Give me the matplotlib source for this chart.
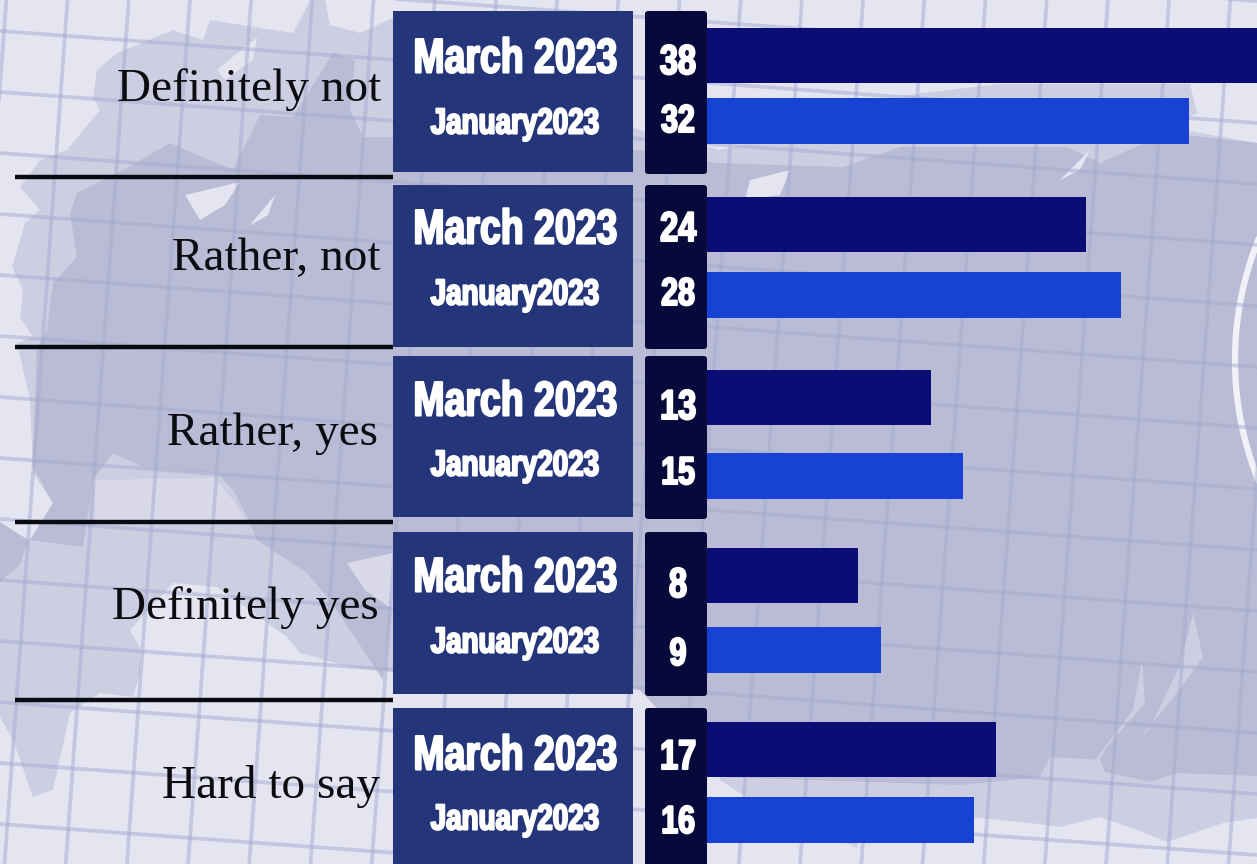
import matplotlib
matplotlib.use("Agg")
import matplotlib.pyplot as plt
from matplotlib.patches import Polygon, Rectangle, FancyBboxPatch
from matplotlib.patheffects import AbstractPathEffect
from matplotlib.transforms import Affine2D
import numpy as np

W, H = 1257, 864

# data
categories = ["Definitely not", "Rather, not", "Rather, yes", "Definitely yes", "Hard to say"]
series_names = ["March 2023", "January2023"]
march_labels = [38, 24, 13, 8, 17]
january_labels = [32, 28, 15, 9, 16]
# bar lengths as drawn in the picture (not strictly proportional to the labels)
march_lengths = [38, 25.15, 14.85, 10.05, 19.15]
january_lengths = [32, 27.5, 17, 11.55, 17.7]

# layout, in pixels of the reference
panel_tops = [11, 185, 356, 532, 708]
panel_bottoms = [172, 347, 517, 694, 870]
march_y = [55.5, 224.5, 397.5, 575.5, 749]
january_y = [121, 295, 475.5, 649.5, 819.5]
march_text_y = [60, 231, 403, 579, 757]
january_text_y = [124, 295, 466, 643, 820]
march_num_y = [63, 230, 408, 586, 758]
january_num_y = [122, 295, 474, 655, 823]
cat_text_y = [90, 259, 434, 608, 786]
cat_text_x = [381, 381, 378, 379, 380]
rule_y = [177, 347, 522, 700]

LIGHT = "#e5e5f1"
SOFT = "#d9d9ea"
MID = "#cdcee2"
DARK = "#babcd6"
GRID = "#a4abd0"
BOLD = ["Liberation Sans", "DejaVu Sans"]

# map outlines
mid_land = [(0, 717), (13, 740), (33, 797), (53, 790), (70, 713), (100, 693), (133, 697), (140, 673),
            (140, 647), (130, 630), (173, 583), (217, 587), (287, 637), (300, 653), (350, 667),
            (393, 672), (640, 690), (707, 745), (720, 780), (743, 795), (857, 848), (860, 800),
            (957, 806), (970, 817), (1030, 823), (1060, 827), (1100, 817), (1137, 830), (1167, 842),
            (1223, 823), (1257, 818), (1257, 143), (1167, 127), (1197, 113), (1190, 84), (1000, 84),
            (907, 95), (850, 120), (720, 150), (640, 130), (393, 18), (360, 33), (330, 25), (325, 0),
            (310, 0), (293, 33), (210, 20), (203, 40), (173, 30), (117, 53), (97, 70), (93, 97),
            (100, 110), (67, 150), (40, 160), (20, 187), (40, 210), (25, 223), (12, 267), (23, 290),
            (20, 317), (33, 337), (17, 343), (30, 400), (33, 473), (53, 503), (30, 540), (0, 525)]
dark_land = [(127, 168), (97, 183), (77, 193), (70, 213), (77, 257), (53, 283), (47, 330), (37, 347),
             (35, 400), (33, 467), (93, 480), (113, 453), (143, 467), (217, 473), (233, 490),
             (247, 517), (257, 540), (307, 573), (330, 600), (383, 680), (393, 600), (640, 690),
             (720, 777), (960, 785), (1040, 777), (1050, 757), (1100, 760), (1105, 772), (1150, 782),
             (1177, 773), (1257, 776), (1257, 143), (1167, 133), (1100, 163), (1067, 147), (900, 147),
             (843, 167), (717, 163), (640, 150), (393, 137), (363, 137), (350, 110), (355, 60), (333, 53),
             (293, 117), (260, 115), (233, 170), (170, 143)]
dark_lobe = [(33, 467), (93, 480), (83, 547), (30, 540), (53, 503)]
dark_west = [(0, 522), (28, 540), (20, 565), (0, 582)]
light_patches = [[(217, 70), (257, 37), (253, 60), (225, 80)],
                 [(185, 195), (240, 182), (225, 205), (200, 220)],
                 [(250, 225), (275, 195), (268, 215), (245, 228)],
                 [(750, 180), (790, 170), (780, 195), (745, 200)],
                 [(1060, 180), (1090, 150), (1080, 170), (1050, 185)]]
soft_patches = [[(95, 480), (215, 478), (233, 500), (245, 520), (95, 525)],
                [(347, 563), (393, 553), (393, 610), (365, 590)]]
lake_west = [(1193, 613), (1203, 657), (1177, 693), (1133, 747), (1150, 728), (1180, 665)]
lake_east = [(1142, 660), (1145, 703), (1107, 747), (1087, 780), (1063, 782), (1093, 763), (1133, 710)]


class Squeeze(AbstractPathEffect):
    # squeezes the glyphs sideways and thickens them, there is no Impact style font here
    def __init__(self, sx, lw):
        super().__init__()
        self.sx = sx
        self.lw = lw

    def draw_path(self, renderer, gc, tpath, affine, rgbFace=None):
        ext = tpath.get_extents()
        cx = (ext.x0 + ext.x1) / 2
        squeezed = Affine2D().translate(-cx, 0).scale(self.sx, 1).translate(cx, 0) + affine
        gc0 = renderer.new_gc()
        gc0.copy_properties(gc)
        gc0.set_linewidth(self.lw)
        gc0.set_foreground(rgbFace)
        renderer.draw_path(gc0, tpath, squeezed, rgbFace)
        gc0.restore()


fig = plt.figure(figsize=(W / 100, H / 100), dpi=100, facecolor=LIGHT)

# background map, pixel coordinates
bg = fig.add_axes([0, 0, 1, 1])
bg.set_xlim(0, W)
bg.set_ylim(H, 0)
bg.axis("off")

bg.add_patch(Polygon(mid_land, closed=True, fc=MID, ec="none", zorder=1))
bg.add_patch(Polygon(dark_land, closed=True, fc=DARK, ec="none", zorder=2))
bg.add_patch(Polygon(dark_lobe, closed=True, fc=DARK, ec="none", zorder=2))
bg.add_patch(Polygon(dark_west, closed=True, fc=DARK, ec="none", zorder=2))
for patch in soft_patches:
    bg.add_patch(Polygon(patch, closed=True, fc=SOFT, ec="none", zorder=3))
for patch in light_patches:
    bg.add_patch(Polygon(patch, closed=True, fc=LIGHT, ec="none", zorder=3))
bg.add_patch(Polygon(lake_west, closed=True, fc=MID, ec="none", zorder=3))
bg.add_patch(Polygon(lake_east, closed=True, fc=MID, ec="none", zorder=3))

# white arc on the right
t = np.linspace(-0.4, 0.4, 60)
bg.plot(1557 - 322 * np.cos(t), 360 + 322 * np.sin(t), color="#f1f1f7", lw=4.5, zorder=4)

# map grid
for i in range(-2, 24):
    x0 = 42.5 + i * 61.2
    bg.plot([x0 + 25, x0 - 38], [0, H], color=GRID, lw=2.7, alpha=0.5, zorder=4)
for j in range(-3, 16):
    y0 = 31 + j * 61
    bg.plot([0, W], [y0, y0 + 92], color=GRID, lw=2.7, alpha=0.5, zorder=4)

# row rules
for y in rule_y:
    bg.plot([15, 393], [y, y], color="#0a0a12", lw=3.2, solid_capstyle="butt", zorder=5)

# panels and labels
for i, cat in enumerate(categories):
    top, bot = panel_tops[i], panel_bottoms[i]
    bg.add_patch(Rectangle((393, top), 240, bot - top, fc="#24357a", ec="none", zorder=6))
    bg.add_patch(FancyBboxPatch((645, top), 62, bot - top + 2, boxstyle="round,pad=0,rounding_size=3",
                                fc="#060939", ec="none", zorder=6))
    bg.text(cat_text_x[i], cat_text_y[i], cat, family="Liberation Serif", fontsize=34, color="#0b0b10",
            ha="right", va="center", zorder=7)
    for x, y, s, size, sx in [(515, march_text_y[i], series_names[0], 35, 0.77),
                              (515, january_text_y[i], series_names[1], 26, 0.77),
                              (678, march_num_y[i], str(march_labels[i]), 30, 0.78),
                              (678, january_num_y[i], str(january_labels[i]), 28, 0.78)]:
        txt = bg.text(x, y, s, family=BOLD, weight="bold", fontsize=size, color="white",
                      ha="center", va="center", zorder=7)
        txt.set_path_effects([Squeeze(sx, 1.5)])

# bars
ax = fig.add_axes([707 / W, 0, (W - 707) / W, 1])
ax.patch.set_alpha(0)
ax.set_xlim(0, (W - 707) / 15.07)
ax.set_ylim(H, 0)
ax.axis("off")
ax.barh(march_y, march_lengths, height=55, color="#0a0d75")
ax.barh(january_y, january_lengths, height=46, color="#1742d4")

fig.savefig("out.png", dpi=100, facecolor=fig.get_facecolor())
